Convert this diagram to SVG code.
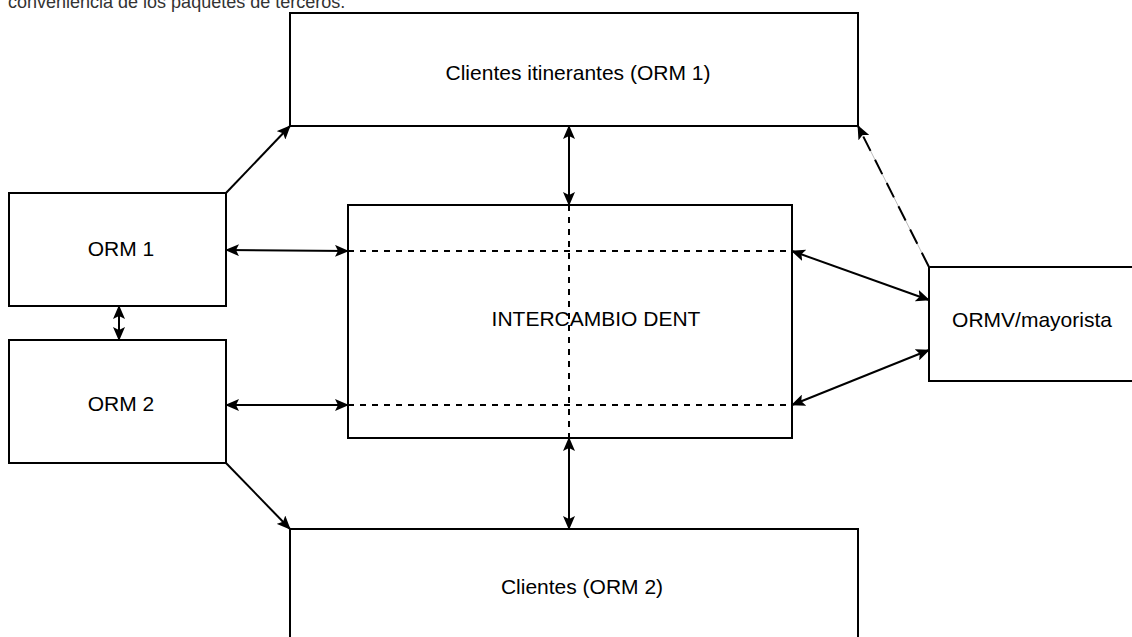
<svg xmlns="http://www.w3.org/2000/svg" width="1132" height="637" viewBox="0 0 1132 637">
<style>
.box{fill:#fff;stroke:#000;stroke-width:2}
.lbl{font-family:"Liberation Sans",Arial,sans-serif;font-size:21px;fill:#000}
.conn{fill:none;stroke:#000;stroke-width:2}
.dash{fill:none;stroke:#000;stroke-width:2;stroke-dasharray:6 6}
</style>
<defs>
<marker id="ah" markerUnits="userSpaceOnUse" markerWidth="14" markerHeight="12" refX="13" refY="6" orient="auto-start-reverse" viewBox="0 0 14 12">
<path d="M0,0 L14,6 L0,12 L3,6 Z" fill="#000"/>
</marker>
</defs>
<rect width="1132" height="637" fill="#fff"/>
<text x="8" y="8" font-family="Liberation Sans, Arial, sans-serif" font-size="18" fill="#333">conveniencia de los paquetes de terceros.</text>
<g id="clientes-itinerantes"><rect class="box" x="290" y="13" width="568" height="113"/><text class="lbl" x="578" y="80" text-anchor="middle">Clientes itinerantes (ORM 1)</text></g>
<g id="orm1"><rect class="box" x="9" y="193" width="217" height="113"/><text class="lbl" x="121" y="256" text-anchor="middle">ORM 1</text></g>
<g id="orm2"><rect class="box" x="9" y="340" width="217" height="123"/><text class="lbl" x="121" y="411" text-anchor="middle">ORM 2</text></g>
<g id="intercambio"><rect class="box" x="348" y="205" width="444" height="233"/>
<line class="dash" x1="348" y1="251" x2="792" y2="251"/>
<line class="dash" x1="348" y1="405" x2="792" y2="405"/>
<line class="dash" x1="569" y1="205" x2="569" y2="438"/>
<text class="lbl" x="596" y="326" text-anchor="middle">INTERCAMBIO DENT</text></g>
<g id="ormv"><rect class="box" x="929" y="267" width="210" height="114"/><text class="lbl" x="1032" y="327" text-anchor="middle">ORMV/mayorista</text></g>
<g id="clientes-orm2"><rect class="box" x="290" y="529" width="568" height="120"/><text class="lbl" x="582" y="594" text-anchor="middle">Clientes (ORM 2)</text></g>
<g id="connectors">
<line class="conn" x1="569" y1="126" x2="569" y2="205" marker-start="url(#ah)" marker-end="url(#ah)"/>
<line class="conn" x1="569" y1="438" x2="569" y2="529" marker-start="url(#ah)" marker-end="url(#ah)"/>
<line class="conn" x1="226" y1="250" x2="348" y2="251" marker-start="url(#ah)" marker-end="url(#ah)"/>
<line class="conn" x1="226" y1="405" x2="348" y2="405" marker-start="url(#ah)" marker-end="url(#ah)"/>
<line class="conn" x1="119" y1="306" x2="119" y2="340" marker-start="url(#ah)" marker-end="url(#ah)"/>
<line class="conn" x1="226" y1="193" x2="290" y2="126" marker-end="url(#ah)"/>
<line class="conn" x1="226" y1="463" x2="290" y2="529" marker-end="url(#ah)"/>
<line class="conn" x1="792" y1="251" x2="929" y2="300" marker-start="url(#ah)" marker-end="url(#ah)"/>
<line class="conn" x1="792" y1="405" x2="929" y2="350" marker-start="url(#ah)" marker-end="url(#ah)"/>
<line x1="929" y1="267" x2="858" y2="126" stroke="#bbb" stroke-width="1"/>
<line x1="929" y1="267" x2="858" y2="126" stroke="#000" stroke-width="2" stroke-dasharray="16 10" marker-end="url(#ah)"/>
</g>
</svg>
